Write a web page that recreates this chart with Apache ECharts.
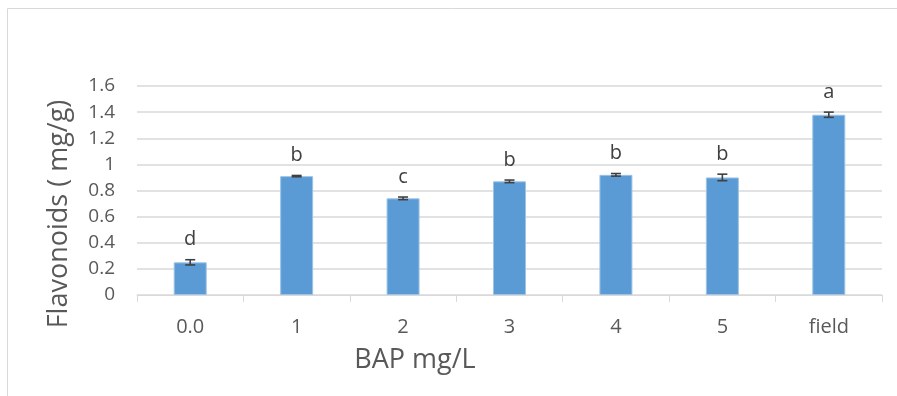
<!DOCTYPE html>
<html>
<head>
<meta charset="utf-8">
<script src="https://cdn.jsdelivr.net/npm/echarts@6/dist/echarts.min.js"></script>
<style>
  html, body { margin: 0; padding: 0; background: #fff; }
  #chart { width: 897px; height: 396px; }
</style>
</head>
<body>
<div id="chart"></div>
<script>
const categories = ['0.0', '1', '2', '3', '4', '5', 'field']
const means = [0.25, 0.91, 0.74, 0.87, 0.92, 0.90, 1.38]
const errors = [0.02, 0.005, 0.01, 0.01, 0.01, 0.025, 0.02]
const letters = ['d', 'b', 'c', 'b', 'b', 'b', 'a']

const chart = echarts.init(document.getElementById('chart'))
const font = '"Open Sans", "Liberation Sans", sans-serif'

const option = {
  animation: false,
  textStyle: { fontFamily: font },
  grid: { left: 137, right: 15, top: 86, bottom: 101 },
  graphic: [
    { type: 'line', shape: { x1: 7.5, y1: 8.5, x2: 897, y2: 8.5 }, style: { stroke: '#d9d9d9', lineWidth: 1 } },
    { type: 'line', shape: { x1: 7.5, y1: 8.5, x2: 7.5, y2: 396 }, style: { stroke: '#d9d9d9', lineWidth: 1 } },
    {
      type: 'text', x: 415, y: 360,
      style: { text: 'BAP mg/L', font: '27px ' + font, fill: '#595959', textAlign: 'center', textVerticalAlign: 'middle' }
    },
    {
      type: 'text', x: 59, y: 214, rotation: Math.PI / 2,
      style: { text: 'Flavonoids ( mg/g)', font: '27px ' + font, fill: '#595959', textAlign: 'center', textVerticalAlign: 'middle' }
    }
  ],
  xAxis: {
    type: 'category',
    data: categories,
    axisLine: { lineStyle: { color: '#d9d9d9' } },
    axisTick: { show: true, length: 7, lineStyle: { color: '#d9d9d9' } },
    axisLabel: { color: '#595959', fontSize: 20, margin: 22 }
  },
  yAxis: {
    type: 'value',
    min: 0, max: 1.6, interval: 0.2,
    axisLine: { show: false },
    axisTick: { show: false },
    axisLabel: { color: '#595959', fontSize: 19, margin: 22 },
    splitLine: { lineStyle: { color: '#d9d9d9', width: 1.5 } }
  },
  series: [
    {
      type: 'bar',
      data: means,
      barWidth: 33,
      itemStyle: { color: '#5b9bd5', borderColor: '#9dc3e6', borderWidth: 1 }
    },
    {
      type: 'custom',
      data: categories.map((c, i) => [i, means[i], errors[i], letters[i]]),
      z: 10,
      renderItem: function (params, api) {
        const x = api.value(0)
        const m = api.value(1)
        const e = api.value(2)
        const hi = api.coord([x, m + e])
        const lo = api.coord([x, m - e])
        const w = 5
        const st = { stroke: '#404040', lineWidth: 1.6 }
        return {
          type: 'group',
          children: [
            { type: 'line', shape: { x1: hi[0], y1: hi[1], x2: lo[0], y2: lo[1] }, style: st },
            { type: 'line', shape: { x1: hi[0] - w, y1: hi[1], x2: hi[0] + w, y2: hi[1] }, style: st },
            { type: 'line', shape: { x1: lo[0] - w, y1: lo[1], x2: lo[0] + w, y2: lo[1] }, style: st },
            {
              type: 'text',
              x: hi[0], y: hi[1] - 10,
              style: {
                text: api.value(3), fill: '#404040', font: '20px ' + font,
                textAlign: 'center', textVerticalAlign: 'bottom'
              }
            }
          ]
        }
      }
    }
  ]
}

chart.setOption(option)
</script>
</body>
</html>
